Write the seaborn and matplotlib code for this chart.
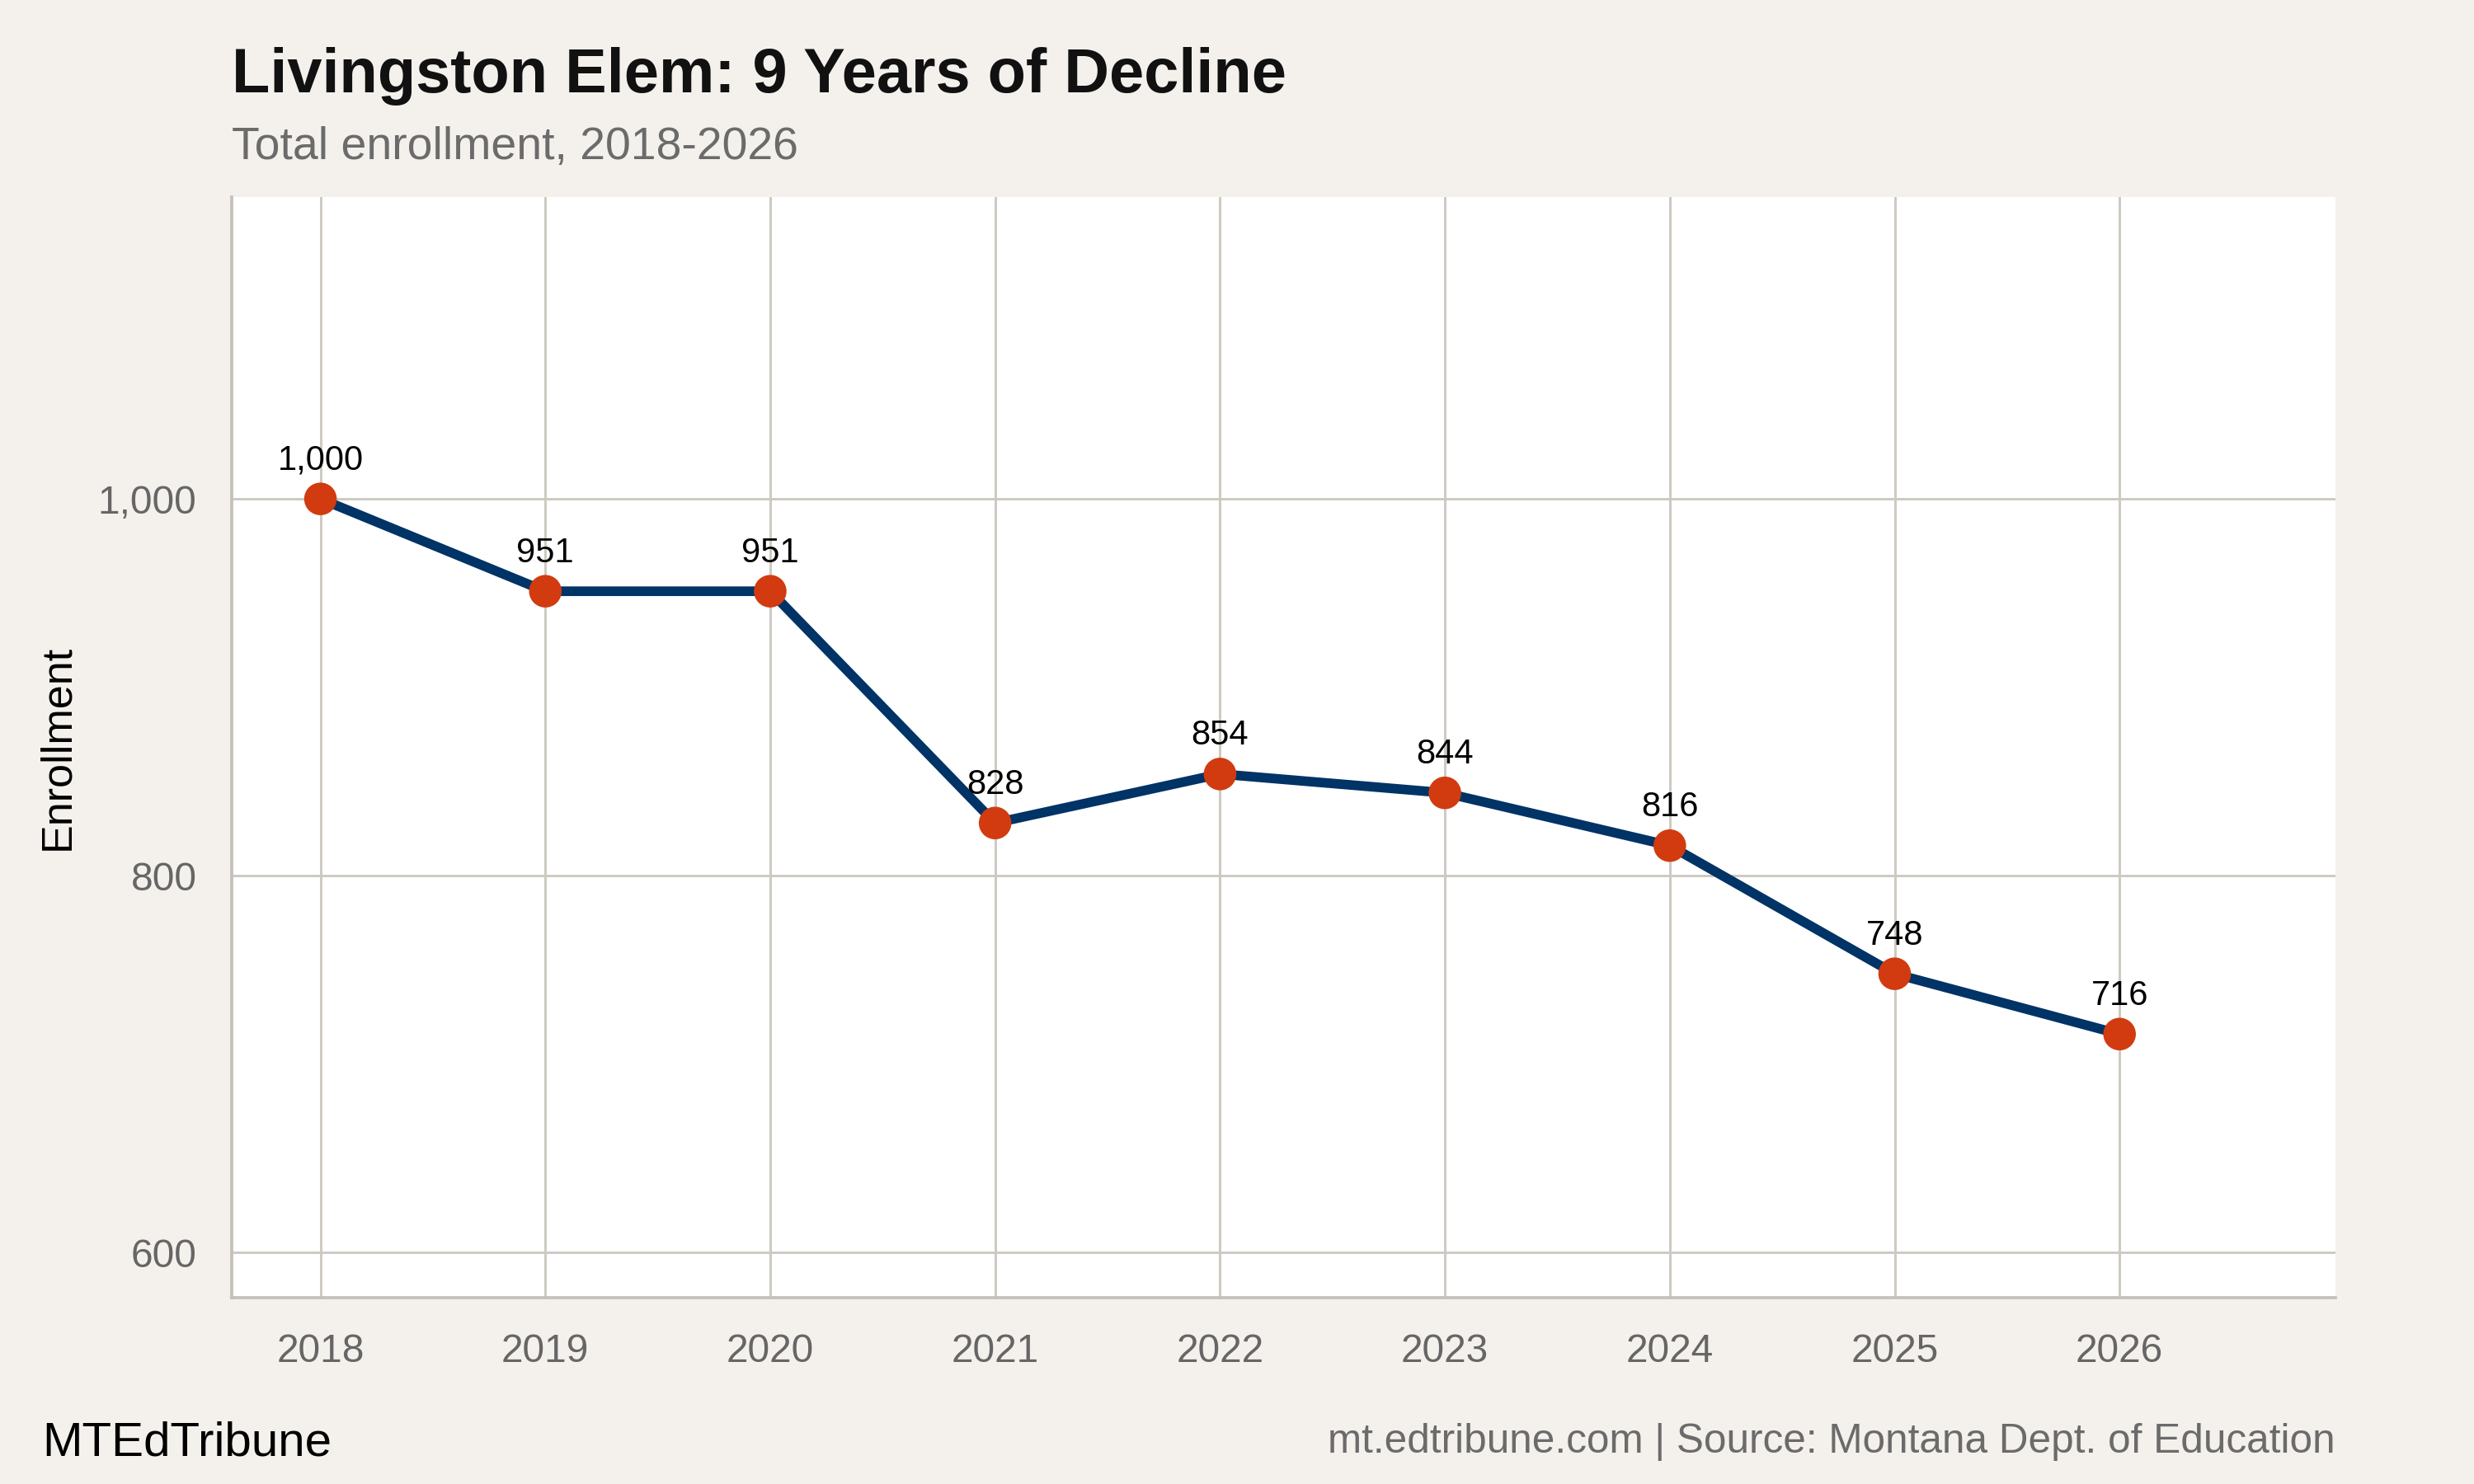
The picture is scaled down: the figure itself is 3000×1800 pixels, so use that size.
import matplotlib
matplotlib.use("Agg")
import matplotlib.pyplot as plt
import seaborn as sns
import pandas as pd
from matplotlib.ticker import FuncFormatter

years = [2018, 2019, 2020, 2021, 2022, 2023, 2024, 2025, 2026]
enrollment = [1000, 951, 951, 828, 854, 844, 816, 748, 716]
y_ticks = [600, 800, 1000]

title = "Livingston Elem: 9 Years of Decline"
subtitle = "Total enrollment, 2018-2026"
y_label = "Enrollment"
brand = "MTEdTribune"
source = "mt.edtribune.com | Source: Montana Dept. of Education"

df = pd.DataFrame({"year": years, "enrollment": enrollment})

sns.set_theme(style="whitegrid")
plt.rcParams["font.family"] = ["Liberation Sans", "DejaVu Sans"]

BG = "#f4f1ec"
GRID = "#cdc9c1"
SPINE = "#c6c1b8"
LINE = "#003366"
MARK = "#d13b0f"
TICK = "#666666"

fig = plt.figure(figsize=(10, 6), dpi=300, facecolor=BG)
ax = fig.add_axes([0.0938, 0.1254, 0.944 - 0.0938, 0.867 - 0.1254])
ax.set_facecolor("white")

sns.lineplot(data=df, x="year", y="enrollment", ax=ax, color=LINE, linewidth=2.8, zorder=3)
sns.scatterplot(data=df, x="year", y="enrollment", ax=ax, color=MARK, s=90,
                edgecolor="none", zorder=4)

for x, y in zip(years, enrollment):
    ax.annotate(f"{y:,}", (x, y), xytext=(0, 8.5), textcoords="offset points",
                ha="center", va="baseline", fontsize=10, color="black", zorder=5)

ax.set_xlim(2017.607, 2026.96)
ax.set_ylim(576, 1160)
ax.set_xticks(years)
ax.set_xticklabels([str(y) for y in years])
ax.set_yticks(y_ticks)
ax.yaxis.set_major_formatter(FuncFormatter(lambda v, p: f"{int(v):,}"))

ax.grid(True, color=GRID, linewidth=0.7)
for s in ["top", "right"]:
    ax.spines[s].set_visible(False)
for s in ["left", "bottom"]:
    ax.spines[s].set_visible(True)
    ax.spines[s].set_color(SPINE)
    ax.spines[s].set_linewidth(0.9)

ax.tick_params(axis="both", which="major", length=3.3, width=0.7, color=GRID,
               labelsize=11.5, labelcolor=TICK)
ax.tick_params(axis="y", pad=7)
ax.tick_params(axis="x", pad=7)
ax.set_xlabel("")
ax.set_ylabel(y_label, fontsize=12.5, color="black", labelpad=5.8)

fig.text(0.0938, 0.938, title, fontsize=18.2, fontweight="bold", color="#111111",
         ha="left", va="baseline")
fig.text(0.0938, 0.893, subtitle, fontsize=13.3, color="#6b6b6b",
         ha="left", va="baseline")
fig.text(0.017, 0.019, brand, fontsize=14, color="black", ha="left", va="baseline")
fig.text(0.944, 0.021, source, fontsize=11.9, color="#6b6b6b", ha="right", va="baseline")

fig.savefig("out.png", dpi=300, facecolor=BG)
